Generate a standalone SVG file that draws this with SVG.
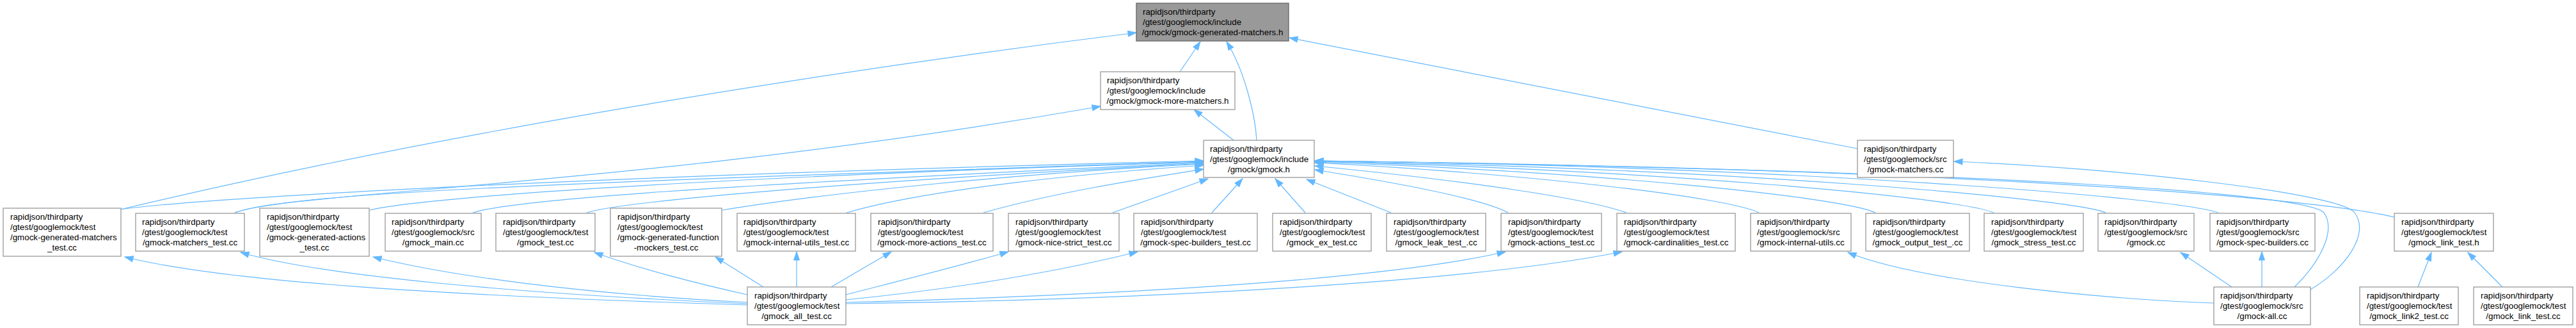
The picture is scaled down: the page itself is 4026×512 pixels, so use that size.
<svg xmlns="http://www.w3.org/2000/svg" width="4026" height="512" viewBox="0 0 4026 512">
<style>
.n rect{fill:#fff;stroke:#999;stroke-width:1.3}
.root rect{fill:#999;stroke:#666}
text{font-family:"Liberation Sans",Arial,sans-serif;font-size:13.33px;fill:#000}
.c{text-anchor:middle}
#edges path{fill:none;stroke:#63b8ff;stroke-width:1.2;marker-end:url(#ah)}
</style>
<defs>
<marker id="ah" markerUnits="userSpaceOnUse" markerWidth="15" markerHeight="11" viewBox="0 0 15 11" refX="14" refY="5.5" orient="auto">
<path d="M1,1 L14,5.5 L1,10 Z" fill="#63b8ff" stroke="#63b8ff" stroke-width="1"/>
</marker>
</defs>
<rect width="4026" height="512" fill="#fff"/>
<g id="edges">
<path d="M1844,112 L1876,65"/>
<path d="M1964,219 C1962,180 1945,110 1917,65"/>
<path d="M188,327 C700,205 1300,110 1776,51"/>
<path d="M2903,232 L2015,59"/>
<path d="M1928,219 L1866,171"/>
<path d="M367,332 C460,298 1000,292 1720,166"/>
<path d="M188,327 C300,310 900,275 1881,251"/>
<path d="M367,332 C450,300 900,285 1881,252"/>
<path d="M578,328 C640,312 1000,280 1881,253"/>
<path d="M739,332 C800,312 1100,290 1881,254"/>
<path d="M917,332 C970,315 1300,285 1881,255"/>
<path d="M1129,328 C1300,300 1600,270 1881,256"/>
<path d="M1323,332 C1450,295 1700,270 1881,258"/>
<path d="M1537,332 C1650,300 1780,280 1881,264"/>
<path d="M1739,332 L1888,279"/>
<path d="M1894,332 L1942,279"/>
<path d="M2040,332 L1993,279"/>
<path d="M2174,332 L2042,280"/>
<path d="M2357,332 C2320,312 2200,288 2055,265"/>
<path d="M2542,332 C2480,310 2300,283 2055,259"/>
<path d="M2749,332 C2700,308 2400,272 2055,254"/>
<path d="M2931,332 C2880,308 2500,268 2055,253"/>
<path d="M3116,332 C3060,308 2600,266 2055,252"/>
<path d="M3291,332 C3240,310 2700,262 2055,252"/>
<path d="M3467,332 C3400,308 2800,260 2055,251"/>
<path d="M3742,339 C3600,305 3000,262 2055,251"/>
<path d="M3586,448 C3625,410 3652,360 3632,332 C3610,305 3200,268 2055,251"/>
<path d="M3611,452 C3665,420 3705,365 3680,332 C3655,300 3300,262 3054,252"/>
<path d="M1168,476 C700,462 350,440 195,401"/>
<path d="M1168,474 C800,458 500,430 376,394"/>
<path d="M1168,472 C900,458 700,430 583,401"/>
<path d="M1168,460 C1100,445 1000,420 929,394"/>
<path d="M1193,448 L1118,401"/>
<path d="M1245,448 L1245,393"/>
<path d="M1299,448 L1393,393"/>
<path d="M1322,460 C1400,440 1500,415 1576,393"/>
<path d="M1322,468 C1500,450 1650,425 1778,393"/>
<path d="M1322,472 C1700,462 2150,440 2353,393"/>
<path d="M1322,474 C1800,468 2300,440 2535,393"/>
<path d="M3460,473 C3300,468 3000,440 2888,394"/>
<path d="M3488,448 L3408,394"/>
<path d="M3535,448 L3535,393"/>
<path d="M3779,448 L3800,394"/>
<path d="M3911,448 L3857,394"/>
</g>
<g id="n_root" class="n root"><rect x="1776" y="5" width="238" height="59"/><text x="1786" y="23">rapidjson/thirdparty</text><text x="1786" y="39">/gtest/googlemock/include</text><text class="c" x="1895" y="55">/gmock/gmock-generated-matchers.h</text></g>
<g id="n_more_matchers_h" class="n"><rect x="1720" y="112" width="210" height="59"/><text x="1730" y="130">rapidjson/thirdparty</text><text x="1730" y="146">/gtest/googlemock/include</text><text class="c" x="1825" y="162">/gmock/gmock-more-matchers.h</text></g>
<g id="n_gmock_h" class="n"><rect x="1881" y="219" width="173" height="58"/><text x="1891" y="237">rapidjson/thirdparty</text><text x="1891" y="253">/gtest/googlemock/include</text><text class="c" x="1967.5" y="269">/gmock/gmock.h</text></g>
<g id="n_matchers_cc" class="n"><rect x="2903" y="219" width="150" height="58"/><text x="2913" y="237">rapidjson/thirdparty</text><text x="2913" y="253">/gtest/googlemock/src</text><text class="c" x="2978" y="269">/gmock-matchers.cc</text></g>
<g id="n_gen_matchers_test" class="n"><rect x="5" y="325" width="184" height="75"/><text x="16" y="343">rapidjson/thirdparty</text><text x="16" y="359">/gtest/googlemock/test</text><text x="16" y="375">/gmock-generated-matchers</text><text class="c" x="97" y="391">_test.cc</text></g>
<g id="n_matchers_test" class="n"><rect x="212" y="333" width="170" height="59"/><text x="222" y="351">rapidjson/thirdparty</text><text x="222" y="367">/gtest/googlemock/test</text><text class="c" x="297" y="383">/gmock-matchers_test.cc</text></g>
<g id="n_gen_actions_test" class="n"><rect x="406" y="325" width="171" height="75"/><text x="417" y="343">rapidjson/thirdparty</text><text x="417" y="359">/gtest/googlemock/test</text><text x="417" y="375">/gmock-generated-actions</text><text class="c" x="491.5" y="391">_test.cc</text></g>
<g id="n_gmock_main" class="n"><rect x="602" y="333" width="150" height="59"/><text x="612" y="351">rapidjson/thirdparty</text><text x="612" y="367">/gtest/googlemock/src</text><text class="c" x="677" y="383">/gmock_main.cc</text></g>
<g id="n_gmock_test" class="n"><rect x="775" y="333" width="155" height="59"/><text x="786" y="351">rapidjson/thirdparty</text><text x="786" y="367">/gtest/googlemock/test</text><text class="c" x="852.5" y="383">/gmock_test.cc</text></g>
<g id="n_gen_function_mockers_test" class="n"><rect x="954" y="325" width="174" height="75"/><text x="965" y="343">rapidjson/thirdparty</text><text x="965" y="359">/gtest/googlemock/test</text><text x="965" y="375">/gmock-generated-function</text><text class="c" x="1041" y="391">-mockers_test.cc</text></g>
<g id="n_internal_utils_test" class="n"><rect x="1152" y="333" width="185" height="59"/><text x="1162" y="351">rapidjson/thirdparty</text><text x="1162" y="367">/gtest/googlemock/test</text><text class="c" x="1244.5" y="383">/gmock-internal-utils_test.cc</text></g>
<g id="n_more_actions_test" class="n"><rect x="1361" y="333" width="191" height="59"/><text x="1372" y="351">rapidjson/thirdparty</text><text x="1372" y="367">/gtest/googlemock/test</text><text class="c" x="1456.5" y="383">/gmock-more-actions_test.cc</text></g>
<g id="n_nice_strict_test" class="n"><rect x="1576" y="333" width="173" height="59"/><text x="1587" y="351">rapidjson/thirdparty</text><text x="1587" y="367">/gtest/googlemock/test</text><text class="c" x="1662.5" y="383">/gmock-nice-strict_test.cc</text></g>
<g id="n_spec_builders_test" class="n"><rect x="1772" y="333" width="193" height="59"/><text x="1783" y="351">rapidjson/thirdparty</text><text x="1783" y="367">/gtest/googlemock/test</text><text class="c" x="1868.5" y="383">/gmock-spec-builders_test.cc</text></g>
<g id="n_ex_test" class="n"><rect x="1989" y="333" width="154" height="59"/><text x="2000" y="351">rapidjson/thirdparty</text><text x="2000" y="367">/gtest/googlemock/test</text><text class="c" x="2066" y="383">/gmock_ex_test.cc</text></g>
<g id="n_leak_test" class="n"><rect x="2167" y="333" width="155" height="59"/><text x="2178" y="351">rapidjson/thirdparty</text><text x="2178" y="367">/gtest/googlemock/test</text><text class="c" x="2244.5" y="383">/gmock_leak_test_.cc</text></g>
<g id="n_actions_test" class="n"><rect x="2346" y="333" width="157" height="59"/><text x="2357" y="351">rapidjson/thirdparty</text><text x="2357" y="367">/gtest/googlemock/test</text><text class="c" x="2424.5" y="383">/gmock-actions_test.cc</text></g>
<g id="n_cardinalities_test" class="n"><rect x="2527" y="333" width="185" height="59"/><text x="2538" y="351">rapidjson/thirdparty</text><text x="2538" y="367">/gtest/googlemock/test</text><text class="c" x="2619.5" y="383">/gmock-cardinalities_test.cc</text></g>
<g id="n_internal_utils_cc" class="n"><rect x="2736" y="333" width="157" height="59"/><text x="2746" y="351">rapidjson/thirdparty</text><text x="2746" y="367">/gtest/googlemock/src</text><text class="c" x="2814.5" y="383">/gmock-internal-utils.cc</text></g>
<g id="n_output_test" class="n"><rect x="2916" y="333" width="162" height="59"/><text x="2927" y="351">rapidjson/thirdparty</text><text x="2927" y="367">/gtest/googlemock/test</text><text class="c" x="2997" y="383">/gmock_output_test_.cc</text></g>
<g id="n_stress_test" class="n"><rect x="3101" y="333" width="155" height="59"/><text x="3112" y="351">rapidjson/thirdparty</text><text x="3112" y="367">/gtest/googlemock/test</text><text class="c" x="3178.5" y="383">/gmock_stress_test.cc</text></g>
<g id="n_gmock_cc" class="n"><rect x="3279" y="333" width="150" height="59"/><text x="3289" y="351">rapidjson/thirdparty</text><text x="3289" y="367">/gtest/googlemock/src</text><text class="c" x="3354" y="383">/gmock.cc</text></g>
<g id="n_spec_builders_cc" class="n"><rect x="3454" y="333" width="164" height="59"/><text x="3464" y="351">rapidjson/thirdparty</text><text x="3464" y="367">/gtest/googlemock/src</text><text class="c" x="3536" y="383">/gmock-spec-builders.cc</text></g>
<g id="n_link_test_h" class="n"><rect x="3742" y="333" width="155" height="59"/><text x="3753" y="351">rapidjson/thirdparty</text><text x="3753" y="367">/gtest/googlemock/test</text><text class="c" x="3819.5" y="383">/gmock_link_test.h</text></g>
<g id="n_all_test" class="n"><rect x="1168" y="448" width="154" height="59"/><text x="1179" y="466">rapidjson/thirdparty</text><text x="1179" y="482">/gtest/googlemock/test</text><text class="c" x="1245" y="498">/gmock_all_test.cc</text></g>
<g id="n_gmock_all_cc" class="n"><rect x="3460" y="448" width="151" height="59"/><text x="3470" y="466">rapidjson/thirdparty</text><text x="3470" y="482">/gtest/googlemock/src</text><text class="c" x="3535.5" y="498">/gmock-all.cc</text></g>
<g id="n_link2_test" class="n"><rect x="3688" y="448" width="154" height="59"/><text x="3699" y="466">rapidjson/thirdparty</text><text x="3699" y="482">/gtest/googlemock/test</text><text class="c" x="3765" y="498">/gmock_link2_test.cc</text></g>
<g id="n_link_test_cc" class="n"><rect x="3866" y="448" width="155" height="59"/><text x="3877" y="466">rapidjson/thirdparty</text><text x="3877" y="482">/gtest/googlemock/test</text><text class="c" x="3943.5" y="498">/gmock_link_test.cc</text></g>
</svg>
